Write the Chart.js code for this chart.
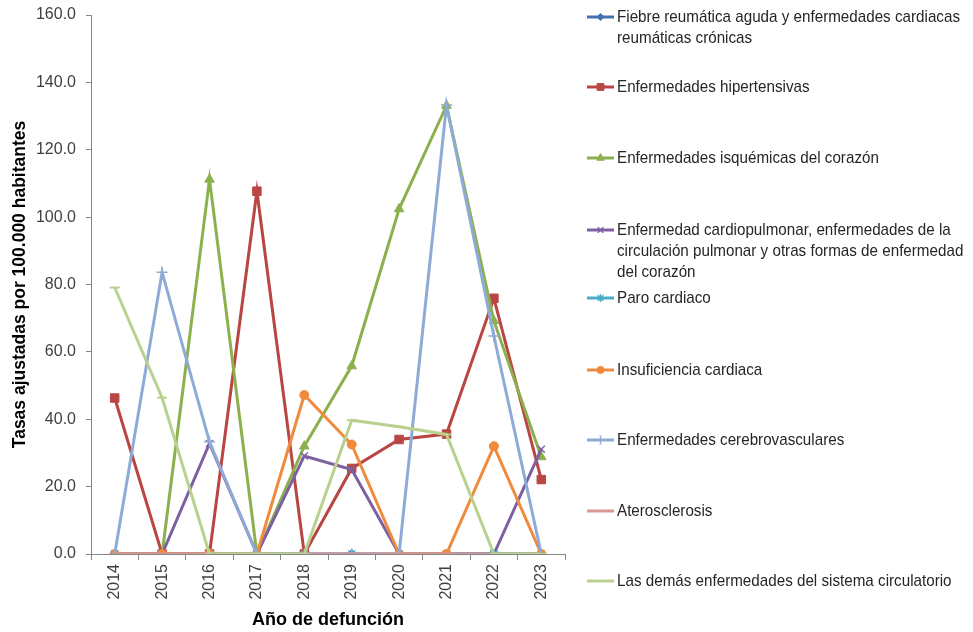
<!DOCTYPE html>
<html>
<head>
<meta charset="utf-8">
<script src="https://cdn.jsdelivr.net/npm/chart.js@4.4.1/dist/chart.umd.min.js"></script>
<style>
html,body{margin:0;padding:0;background:#fff;}
#wrap{position:relative;width:973px;height:632px;overflow:hidden;}
#c{position:absolute;left:0;top:0;}
.leg{position:absolute;left:585px;font-family:'Liberation Sans Narrow','Arial Narrow','Liberation Sans',Arial,sans-serif;font-size:17px;line-height:21px;color:#262626;white-space:nowrap;}
.leg canvas{position:absolute;left:0;top:0;}
.leg .t{position:relative;left:32px;display:block;transform:scaleX(0.894);transform-origin:0 50%;}
</style>
</head>
<body>
<div id="wrap">
<canvas id="c" width="973" height="632"></canvas>
<div id="legend"></div>
</div>
<script>
// ---- data ----
const categories = ['2014','2015','2016','2017','2018','2019','2020','2021','2022','2023'];
const seriesNames = [
  'Fiebre reumática aguda y enfermedades cardiacas reumáticas crónicas',
  'Enfermedades hipertensivas',
  'Enfermedades isquémicas del corazón',
  'Enfermedad cardiopulmonar, enfermedades de la circulación pulmonar y otras formas de enfermedad del corazón',
  'Paro cardiaco',
  'Insuficiencia cardiaca',
  'Enfermedades cerebrovasculares',
  'Aterosclerosis',
  'Las demás enfermedades del sistema circulatorio'
];
const legendLines = [
  ['Fiebre reumática aguda y enfermedades cardiacas', 'reumáticas crónicas'],
  ['Enfermedades hipertensivas'],
  ['Enfermedades isquémicas del corazón'],
  ['Enfermedad cardiopulmonar, enfermedades de la', 'circulación pulmonar y otras formas de enfermedad', 'del corazón'],
  ['Paro cardiaco'],
  ['Insuficiencia cardiaca'],
  ['Enfermedades cerebrovasculares'],
  ['Aterosclerosis'],
  ['Las demás enfermedades del sistema circulatorio']
];
const fiebreReumatica   = [0, 0, 0, 0, 0, 0, 0, 0, 0, 0];
const hipertensivas     = [46.3, 0, 0, 107.7, 0, 25.4, 34.0, 35.6, 75.9, 22.1];
const isquemicas        = [0, 0, 111.2, 0, 32.0, 55.8, 102.4, 133.1, 69.2, 28.8];
const cardiopulmonar    = [0, 0, 32.8, 0, 29.1, 25.1, 0, 0, 0, 31.1];
const paroCardiaco      = [0, 0, 0, 0, 0, 0, 0, 0, 0, 0];
const insuficiencia     = [0, 0, 0, 0, 47.2, 32.5, 0, 0, 32.0, 0];
const cerebrovasculares = [0, 83.6, 33.3, 0, 0, 0, 0, 133.3, 64.7, 0];
const aterosclerosis    = [0, 0, 0, 0, 0, 0, 0, 0, 0, 0];
const lasDemas          = [79.1, 46.4, 0, 0, 0, 39.7, 37.8, 35.5, 0, 0];
const yAxisMin = 0, yAxisMax = 160, yAxisStep = 20;

const seriesValues = [fiebreReumatica, hipertensivas, isquemicas, cardiopulmonar, paroCardiaco, insuficiencia, cerebrovasculares, aterosclerosis, lasDemas];

// ---- styles ----
const styles = [
  {color:'#4472B0', ps:'rectRot',  r:4.5, pbw:1,   fill:true},
  {color:'#B94643', ps:'rect',     r:6,   pbw:1,   fill:true},
  {color:'#8DB04F', ps:'triangle', r:5.5, pbw:1,   fill:true},
  {color:'#7D60A0', ps:'crossRot', r:5,   pbw:1.5, fill:false},
  {color:'#4BACC6', ps:'star',     r:5,   pbw:1.5, fill:false},
  {color:'#F08A3C', ps:'circle',   r:4.5, pbw:1,   fill:true},
  {color:'#8EABD6', ps:'cross',    r:5.5, pbw:1.5, fill:false},
  {color:'#D99694', ps:false,      r:0,   pbw:0,   fill:false},
  {color:'#B9D18E', ps:'line',     r:5,   pbw:2,   fill:false}
];
const tickFont = {family:"'Liberation Sans Narrow','Arial Narrow','Liberation Sans',Arial,sans-serif", size:16};
const titleFont = {family:"'Liberation Sans',Arial,sans-serif", size:18, weight:'bold'};
const yTitleFont = {family:"'Liberation Sans',Arial,sans-serif", size:17.5, weight:'bold'};
const axisGrey = '#868686';

const datasets = seriesValues.map((data, i) => ({
  label: seriesNames[i],
  data: data,
  borderColor: styles[i].color,
  backgroundColor: styles[i].color,
  borderWidth: 3,
  pointStyle: styles[i].ps || 'circle',
  pointRadius: styles[i].r,
  pointHoverRadius: styles[i].r,
  pointBorderWidth: styles[i].pbw,
  pointBorderColor: styles[i].color,
  pointBackgroundColor: styles[i].color,
  tension: 0,
  fill: false,
  order: seriesValues.length - i
}));

// ---- legend (HTML) ----
const legendTops = [6, 76, 147, 219, 287, 359, 429, 500, 570];
const legendEl = document.getElementById('legend');
legendLines.forEach((lines, i) => {
  const div = document.createElement('div');
  div.className = 'leg';
  div.style.top = legendTops[i] + 'px';
  const cv = document.createElement('canvas');
  cv.width = 32; cv.height = 21;
  div.appendChild(cv);
  lines.forEach(l => {
    const s = document.createElement('span');
    s.className = 't';
    s.textContent = l;
    div.appendChild(s);
  });
  legendEl.appendChild(div);
  const ctx = cv.getContext('2d');
  ctx.strokeStyle = styles[i].color;
  ctx.lineWidth = 3;
  ctx.beginPath(); ctx.moveTo(2, 11); ctx.lineTo(29, 11); ctx.stroke();
  if (styles[i].ps) {
    ctx.fillStyle = styles[i].color;
    ctx.lineWidth = styles[i].pbw;
    Chart.helpers.drawPoint(ctx, {pointStyle: styles[i].ps, radius: styles[i].r * 0.8, borderWidth: styles[i].pbw, rotation: 0}, 15.5, 11);
  }
});

new Chart(document.getElementById('c'), {
  type: 'line',
  data: {labels: categories, datasets: datasets},
  options: {
    responsive: false,
    animation: false,
    layout: {padding: {left: 0, top: 15, right: 408, bottom: 0}},
    plugins: {legend: {display: false}, tooltip: {enabled: false}},
    scales: {
      x: {
        type: 'category',
        offset: true,
        grid: {offset: true, drawOnChartArea: false, drawTicks: true, tickLength: 6, color: axisGrey, lineWidth: 1},
        border: {display: true, color: axisGrey, width: 1},
        ticks: {font: tickFont, color: '#404040', minRotation: 90, maxRotation: 90, padding: 4, autoSkip: false},
        title: {display: true, text: 'Año de defunción', font: titleFont, color: '#000', padding: {top: 0, bottom: 1}},
        afterFit(s) { s.height = 78; }
      },
      y: {
        min: yAxisMin, max: yAxisMax,
        grid: {drawOnChartArea: false, drawTicks: true, tickLength: 5, color: axisGrey, lineWidth: 1},
        border: {display: true, color: axisGrey, width: 1},
        ticks: {stepSize: yAxisStep, font: tickFont, color: '#404040', padding: 10, callback: v => Number(v).toFixed(1)},
        title: {display: true, text: 'Tasas ajustadas por 100.000 habitantes', font: yTitleFont, color: '#000', padding: {top: 10, bottom: 0}},
        afterFit(s) { s.width = 91; s.paddingTop = 0; s.paddingBottom = 0; }
      }
    }
  }
});
</script>
</body>
</html>
